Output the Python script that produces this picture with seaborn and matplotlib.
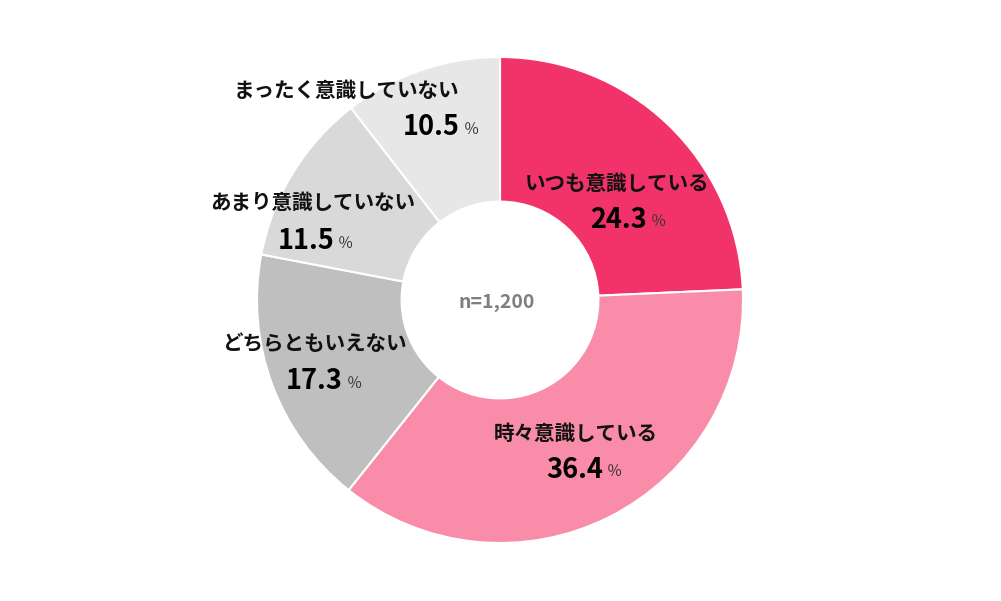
import matplotlib
matplotlib.use("Agg")
import matplotlib.pyplot as plt
import seaborn as sns

# ---- data ----
categories = ["いつも意識している", "時々意識している", "どちらともいえない",
              "あまり意識していない", "まったく意識していない"]
values = [24.3, 36.4, 17.3, 11.5, 10.5]
value_labels = ["24.3", "36.4", "17.3", "11.5", "10.5"]
center_label = "n=1,200"

# ---- style ----
sns.set_theme(style="white")
plt.rcParams['font.family'] = ['Noto Sans CJK JP', 'DejaVu Sans']
colors = ["#F2336A", "#F98CA8", "#BFBFBF", "#D9D9D9", "#E7E7E7"]

W, H = 1001, 601
fig = plt.figure(figsize=(W / 100, H / 100), dpi=100)
cx, cy, R = 500, 300, 243
ax = fig.add_axes([(cx - R) / W, (H - cy - R) / H, 2 * R / W, 2 * R / H])

ax.pie(values, colors=colors, startangle=90, counterclock=False, radius=1.0,
       wedgeprops=dict(width=0.595, edgecolor="white", linewidth=1.5))
ax.set_xlim(-1, 1)
ax.set_ylim(-1, 1)
ax.set_aspect("equal")
ax.axis("off")

def d(px, py):
    return ((px - cx) / R, (cy - py) / R)

# layout (pixel positions): label center, number right edge, number/percent y
layout = [
    (617, 183, 647, 220),
    (576, 433, 603, 470),
    (315, 343, 343, 381),
    (313, 202, 334, 241),
    (346, 90, 460, 127),
]

for cat, vl, (lx, ly, nx, ny) in zip(categories, value_labels, layout):
    ax.text(*d(lx, ly), cat, ha="center", va="center", fontsize=14.8,
            fontweight="bold", color="#111111")
    ax.text(*d(nx, ny), vl, ha="right", va="center", fontsize=19.5,
            fontweight="bold", color="#000000")
    ax.text(*d(nx + 4, ny + 2), "％", ha="left", va="center", fontsize=11,
            color="#333333")

ax.text(*d(497, 302), center_label, ha="center", va="center", fontsize=14,
        fontweight="bold", color="#7F7F7F")

fig.savefig("out.png", dpi=100, facecolor="white")
